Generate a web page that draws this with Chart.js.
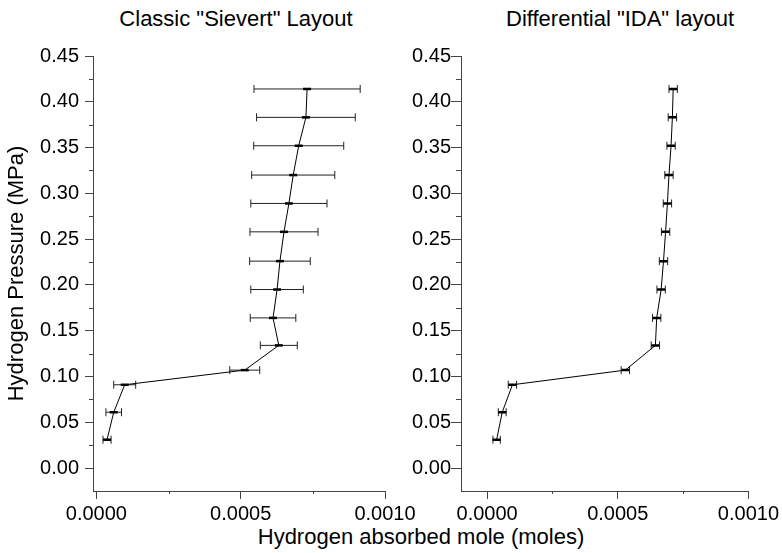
<!DOCTYPE html>
<html>
<head>
<meta charset="utf-8">
<script src="https://cdn.jsdelivr.net/npm/chart.js@4.4.0/dist/chart.umd.min.js"></script>
<style>
  body { margin: 0; background: #fff; width: 782px; height: 553px; overflow: hidden; position: relative;
         font-family: "Liberation Sans", Arial, sans-serif; }
  canvas { position: absolute; top: 0; }
  #sievertChart { left: 0; }
  #idaChart { left: 400px; }
  .txt { position: absolute; white-space: nowrap; color: #000; transform: translateX(-50%); }
</style>
</head>
<body>
<div class="txt" style="left:236px; top:6px; font-size:22px;">Classic "Sievert" Layout</div>
<div class="txt" style="left:620px; top:6px; font-size:22px;">Differential "IDA" layout</div>
<div class="txt" style="left:421px; top:524px; font-size:22px;">Hydrogen absorbed mole (moles)</div>
<canvas id="sievertChart" width="440" height="553"></canvas>
<canvas id="idaChart" width="382" height="553"></canvas>
<script>
// hydrogen pressure (MPa), same steps for both layouts
const pressure = [0.031, 0.061, 0.091, 0.107, 0.134, 0.164, 0.195, 0.226, 0.258, 0.289, 0.320, 0.352, 0.383, 0.414];

// absorbed moles + x error, classic Sievert layout
const sievertMoles = [0.0000368, 0.0000600, 0.0000981, 0.000514, 0.000632, 0.000612, 0.000626,
                      0.000636, 0.000650, 0.000667, 0.000682, 0.000701, 0.000726, 0.000730];
const sievertErr = [0.000014, 0.000027, 0.000038, 0.000052, 0.000064, 0.000079, 0.000091,
                    0.000105, 0.000118, 0.000132, 0.000144, 0.000156, 0.000171, 0.000184];

// absorbed moles + x error, differential IDA layout
const idaMoles = [0.0000363, 0.0000578, 0.0000968, 0.000529, 0.000644, 0.000649, 0.000666,
                  0.000675, 0.000683, 0.000690, 0.000696, 0.000704, 0.000709, 0.000712];
const idaErr = [0.000014, 0.000015, 0.000016, 0.000016, 0.000016, 0.000016, 0.000016,
                0.000016, 0.000016, 0.000016, 0.000016, 0.000016, 0.000016, 0.000016];

// axis ticks
const yMinorTicks = [0.025, 0.075, 0.125, 0.175, 0.225, 0.275, 0.325, 0.375, 0.425];
const xMinorTicks = [0.00025, 0.00075];

const FONT = 'Liberation Sans, Arial, sans-serif';
const AXIS = '#444';

// horizontal error bars with caps
const errorBars = {
  id: 'errorBars',
  beforeDatasetsDraw(chart, args, opts) {
    const { ctx, scales: { x, y } } = chart;
    const xs = opts.xs, errs = opts.errs;
    ctx.save();
    ctx.strokeStyle = '#222';
    ctx.lineWidth = 1;
    for (let i = 0; i < xs.length; i++) {
      const py = y.getPixelForValue(pressure[i]);
      const x0 = x.getPixelForValue(xs[i] - errs[i]);
      const x1 = x.getPixelForValue(xs[i] + errs[i]);
      ctx.beginPath();
      ctx.moveTo(x0, py); ctx.lineTo(x1, py);
      ctx.moveTo(x0, py - 4); ctx.lineTo(x0, py + 4);
      ctx.moveTo(x1, py - 4); ctx.lineTo(x1, py + 4);
      ctx.stroke();
    }
    ctx.restore();
  }
};

// small minor ticks between the labelled ones
const minorTicks = {
  id: 'minorTicks',
  afterDraw(chart, args, opts) {
    const { ctx, scales: { x, y } } = chart;
    ctx.save();
    ctx.strokeStyle = AXIS;
    ctx.lineWidth = 1;
    ctx.beginPath();
    yMinorTicks.forEach(v => {
      const p = Math.round(y.getPixelForValue(v)) + 0.5;
      ctx.moveTo(y.right - opts.len, p); ctx.lineTo(y.right, p);
    });
    xMinorTicks.forEach(v => {
      const p = Math.round(x.getPixelForValue(v)) + 0.5;
      ctx.moveTo(p, x.top); ctx.lineTo(p, x.top + 3);
    });
    ctx.stroke();
    ctx.restore();
  }
};

function makePanel(id, xs, errs, cfg) {
  return new Chart(document.getElementById(id), {
    type: 'line',
    data: {
      datasets: [{
        data: xs.map((v, i) => ({ x: v, y: pressure[i] })),
        borderColor: '#000',
        borderWidth: 1,
        pointStyle: 'line',
        pointRadius: 4,
        pointBorderWidth: 2.5,
        pointBorderColor: '#000',
        tension: 0
      }]
    },
    options: {
      responsive: false,
      animation: false,
      devicePixelRatio: 1,
      layout: { padding: { top: 56, right: cfg.padRight, bottom: 0, left: 0 } },
      plugins: {
        legend: { display: false },
        tooltip: { enabled: false },
        errorBars: { xs: xs, errs: errs },
        minorTicks: { len: cfg.minorLen }
      },
      scales: {
        x: {
          type: 'linear',
          min: cfg.xMin,
          max: 0.001,
          afterFit: s => { s.height = 62; },
          border: { color: AXIS, width: 1 },
          grid: { drawOnChartArea: false, color: AXIS, tickLength: 8 },
          ticks: {
            stepSize: 0.0005,
            includeBounds: false,
            padding: 3,
            color: '#000',
            font: { family: FONT, size: 20 },
            callback: v => v.toFixed(4)
          }
        },
        y: {
          type: 'linear',
          min: -0.025,
          max: 0.45,
          afterFit: s => { s.width = cfg.yWidth; },
          border: { color: AXIS, width: 1 },
          grid: { drawOnChartArea: false, color: AXIS, tickLength: cfg.tickLen },
          title: {
            display: cfg.yTitle,
            text: 'Hydrogen Pressure (MPa)',
            color: '#000',
            font: { family: FONT, size: 22 },
            padding: { top: 4, bottom: 0 }
          },
          ticks: {
            stepSize: 0.05,
            includeBounds: false,
            padding: cfg.tickPad,
            color: '#000',
            font: { family: FONT, size: 20 },
            callback: v => v.toFixed(2)
          }
        }
      }
    },
    plugins: [errorBars, minorTicks]
  });
}

makePanel('sievertChart', sievertMoles, sievertErr,
  { xMin: -0.0000118, padRight: 55, yWidth: 93, tickLen: 8, tickPad: 6, minorLen: 4, yTitle: true });
makePanel('idaChart', idaMoles, idaErr,
  { xMin: -0.0001, padRight: 30, yWidth: 61, tickLen: 10, tickPad: 0, minorLen: 5, yTitle: false });
</script>
</body>
</html>
